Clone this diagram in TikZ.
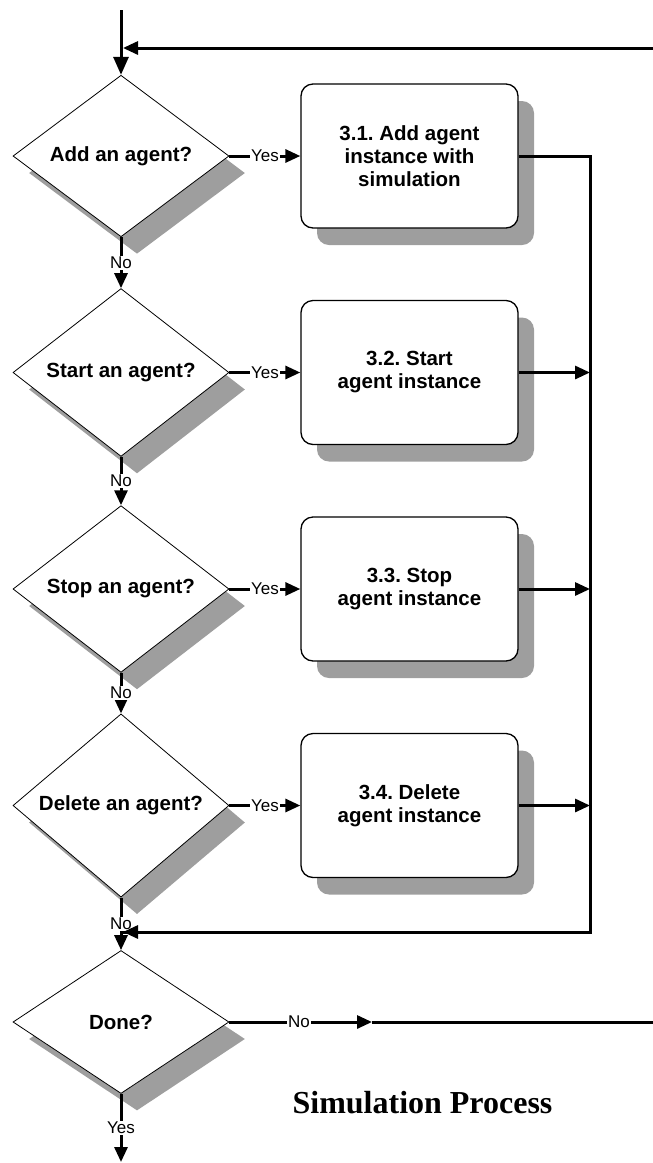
\documentclass[tikz,border=0pt]{standalone}
\usepackage{fontspec}
\setmainfont{Liberation Sans}
\newfontfamily\titlefont{Liberation Serif}
\usetikzlibrary{shapes.geometric,shadows,arrows.meta}
\frenchspacing
\begin{document}
\begin{tikzpicture}[x=1pt,y=-1pt,
  shade/.style={drop shadow={shadow xshift=16pt,shadow yshift=-17pt,fill=black!38,opacity=1}},
  decision/.style={diamond,draw,line width=0.8pt,fill=white,minimum width=216pt,minimum height=143pt,inner sep=0pt,shade,
    font=\fontsize{20.5}{23}\selectfont\bfseries},
  process/.style={rectangle,rounded corners=12pt,draw,line width=1.3pt,fill=white,minimum width=217pt,minimum height=144pt,inner sep=0pt,shade,
    align=center,font=\fontsize{20.5}{23}\selectfont\bfseries},
  conn/.style={line width=3pt},
  arr/.style={conn,-{Triangle[length=15pt,width=13pt]}},
  bigarr/.style={conn,-{Triangle[length=18pt,width=15pt]}},
  lab/.style={fill=white,inner sep=1pt,font=\fontsize{17}{19}\selectfont},
  title/.style={font=\titlefont\fontsize{32}{36}\selectfont\bfseries,anchor=base}
]
\useasboundingbox (0,0) rectangle (653,1163);

% decisions
\node[decision] (d1) at (121,156) {Add an agent?};
\node[decision] (d2) at (121,372.5) {Start an agent?};
\node[decision] (d3) at (121,589) {Stop an agent?};
\node[decision] (d4) at (121,805.5) {Delete an agent?};
\node[decision] (d5) at (121,1022) {Done?};

% processes
\node[process] (b1) at (409.5,156) {3.1. Add agent\\instance with\\simulation};
\node[process] (b2) at (409.5,372.5) {3.2. Start\\agent instance};
\node[process] (b3) at (409.5,589) {3.3. Stop\\agent instance};
\node[process] (b4) at (409.5,805.5) {3.4. Delete\\agent instance};

% free coordinates
\coordinate (top) at (121,10);
\coordinate (fbR) at (653,48);
\coordinate (fbL) at (123,48);
\coordinate (cR1) at (590,156);
\coordinate (cR2) at (590,932);
\coordinate (merge) at (123,932);
\coordinate (tip5) at (372,1022);
\coordinate (right5) at (653,1022);
\coordinate (bottom) at (121,1162);

% title
\node[title] (title) at (422.5,1113) {Simulation Process};

% connectors
\draw[bigarr] (top) -- (d1.north);
\draw[arr] (fbR) -- (fbL);

\draw[arr] (d1.east) -- node[lab]{Yes} (b1.west);
\draw[arr] (d2.east) -- node[lab]{Yes} (b2.west);
\draw[arr] (d3.east) -- node[lab]{Yes} (b3.west);
\draw[arr] (d4.east) -- node[lab]{Yes} (b4.west);

\draw[arr] (d1.south) -- node[lab]{No} (d2.north);
\draw[arr] (d2.south) -- node[lab]{No} (d3.north);
\draw[arr] (d3.south) -- node[lab]{No} (d4.north);
\draw[arr] (d4.south) -- node[lab]{No} (d5.north);

\draw[conn,line join=miter] (b1.east) -- (cR1) -- (cR2) -- (cR2 -| merge);
\draw[arr] (cR2) -- (merge);
\draw[arr] (b2.east) -- (b2.east -| cR1);
\draw[arr] (b3.east) -- (b3.east -| cR1);
\draw[arr] (b4.east) -- (b4.east -| cR1);

\node[lab] (no5) at (299,1022) {No};
\draw[conn] (d5.east) -- (no5.west);
\draw[arr] (no5.east) -- (tip5);
\draw[conn] (tip5) -- (right5);

\draw[arr] (d5.south) -- node[lab]{Yes} (bottom);
\end{tikzpicture}
\end{document}
